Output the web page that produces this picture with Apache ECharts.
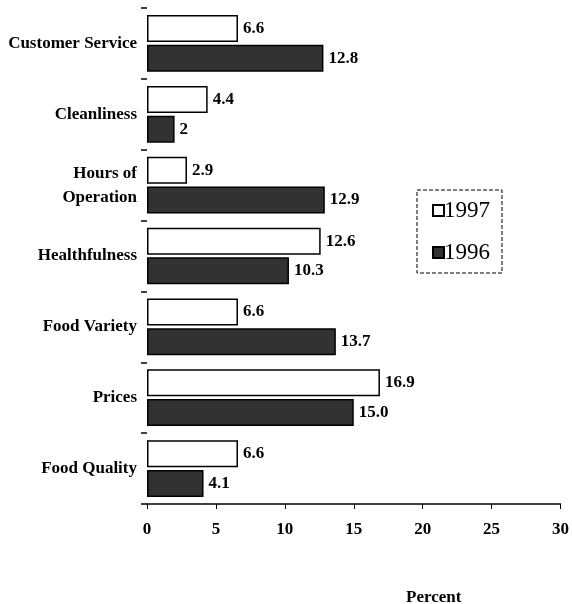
<!DOCTYPE html>
<html><head><meta charset="utf-8">
<script src="https://cdn.jsdelivr.net/npm/echarts@6/dist/echarts.min.js"></script>
<style>html,body{margin:0;padding:0;background:#fff;overflow:hidden}#c{width:572px;height:604px}</style>
</head><body><div id="c"></div>
<script>
const categories = ['Customer Service','Cleanliness','Hours of\nOperation','Healthfulness','Food Variety','Prices','Food Quality'];
const values1997 = [6.6, 4.4, 2.9, 12.6, 6.6, 16.9, 6.6];
const values1996 = [12.8, 2, 12.9, 10.3, 13.7, 15.0, 4.1];
const labels1997 = ['6.6','4.4','2.9','12.6','6.6','16.9','6.6'];
const labels1996 = ['12.8','2','12.9','10.3','13.7','15.0','4.1'];
const xTicks = [0,5,10,15,20,25,30];

const serif = 'Liberation Serif';
const chart = echarts.init(document.getElementById('c'));
chart.setOption({
  animation:false,
  backgroundColor:'#fff',
  grid:{left:147,right:3,top:8,bottom:100,containLabel:false},
  title:{text:'Percent',left:406,top:589,padding:0,textStyle:{fontFamily:serif,fontWeight:'bold',fontSize:17,color:'#000'}},
  legend:{
    orient:'vertical',left:417,top:190,
    padding:[9,12,9,15],itemGap:19,
    borderColor:'#000',borderWidth:1,borderType:'dashed',
    itemWidth:11,itemHeight:11,icon:'rect',
    textStyle:{fontFamily:serif,fontSize:23,color:'#000',padding:[0,0,0,-5]},
    data:['1997','1996']
  },
  xAxis:{
    type:'value',min:0,max:30,interval:5,
    axisLine:{show:true,lineStyle:{color:'#000',width:1.5}},
    axisTick:{show:true,length:5,lineStyle:{color:'#000'}},
    splitLine:{show:false},
    axisLabel:{margin:17,fontFamily:serif,fontWeight:'bold',fontSize:17,color:'#000',
      formatter:v=>xTicks.includes(v)?String(v):''}
  },
  yAxis:{
    type:'category',data:categories,inverse:true,
    axisLine:{show:false},
    axisTick:{show:true,length:6,lineStyle:{color:'#000',width:1.5}},
    axisLabel:{margin:10,fontFamily:serif,fontWeight:'bold',fontSize:17,color:'#000',lineHeight:24,align:'right'}
  },
  series:[
    {name:'1997',type:'bar',data:values1997,barGap:'10%',barCategoryGap:'20%',
     itemStyle:{color:'#fff',borderColor:'#000',borderWidth:1.5},
     label:{show:true,position:'right',distance:5,fontFamily:serif,fontWeight:'bold',fontSize:17,color:'#000',
       formatter:p=>labels1997[p.dataIndex]}},
    {name:'1996',type:'bar',data:values1996,
     itemStyle:{color:'#323232',borderColor:'#000',borderWidth:1.5},
     label:{show:true,position:'right',distance:5,fontFamily:serif,fontWeight:'bold',fontSize:17,color:'#000',
       formatter:p=>labels1996[p.dataIndex]}}
  ]
});
</script></body></html>
